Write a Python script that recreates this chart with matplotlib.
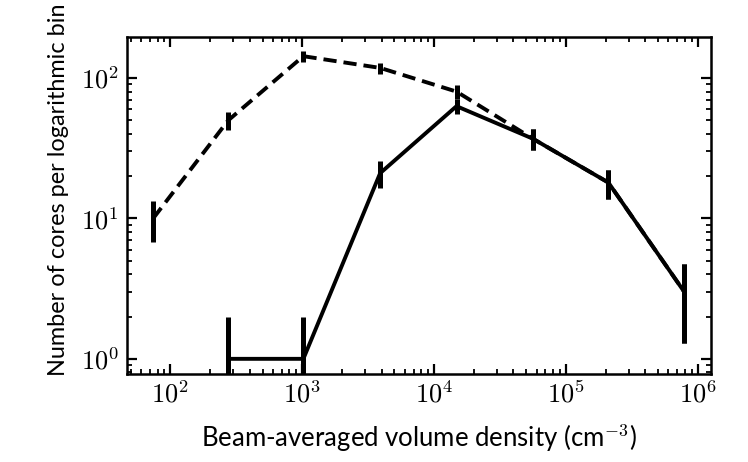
import math
import matplotlib
matplotlib.use("Agg")
import matplotlib.pyplot as plt
from matplotlib.ticker import FuncFormatter, LogLocator

plt.rcParams['mathtext.fontset'] = 'cm'
plt.rcParams['font.family'] = ['Lato', 'DejaVu Sans']

# bin centres (cm^-3) and counts per logarithmic bin
density = [74, 275, 1020, 3900, 14800, 56000, 210000, 790000]

all_counts = [10, 50, 143, 118, 80, 37, 18, 3]
all_err = [3.2, 7.1, 12.0, 10.9, 8.9, 6.1, 4.2, 1.7]

sel_density = [275, 1020, 3900, 14800, 56000, 210000, 790000]
sel_counts = [1, 1, 21, 63, 37, 18, 3]
sel_err = [1, 1, 4.6, 7.9, 6.1, 4.2, 1.7]

fig = plt.figure(figsize=(7.48, 4.62), dpi=100)
ax = fig.add_axes([0.170, 0.1905, 0.7805, 0.7295])

ax.errorbar(density, all_counts, yerr=all_err, color='k', ls='--', lw=2.8,
            dashes=(3.4, 1.8), elinewidth=3.6, capsize=0)
ax.errorbar(sel_density, sel_counts, yerr=sel_err, color='k', ls='-', lw=2.8,
            elinewidth=3.6, capsize=0)

ax.set_xscale('log')
ax.set_yscale('log')
ax.set_xlim(47, 1.26e6)
ax.set_ylim(0.78, 196)

fmt = FuncFormatter(lambda v, p: r'$10^{%d}$' % round(math.log10(v)))
ax.xaxis.set_major_formatter(fmt)
ax.yaxis.set_major_formatter(fmt)
ax.xaxis.set_major_locator(LogLocator(base=10, numticks=10))
ax.yaxis.set_major_locator(LogLocator(base=10, numticks=10))

ax.tick_params(which='both', direction='in', top=True, right=True, labelsize=19)
ax.tick_params(which='major', length=7, width=1.6)
ax.tick_params(which='minor', length=3.5, width=1.3)
ax.tick_params(axis='x', pad=5)
ax.tick_params(axis='y', pad=6)
for s in ax.spines.values():
    s.set_linewidth(1.8)

ax.set_xlabel(r'Beam-averaged volume density (cm$^{-3}$)', fontsize=18.5)
ax.set_ylabel('Number of cores per logarithmic bin', fontsize=16.9)
ax.xaxis.set_label_coords(0.5, -0.145)
ax.yaxis.set_label_coords(-0.099, 0.546)

fig.savefig('out.png', dpi=100)
